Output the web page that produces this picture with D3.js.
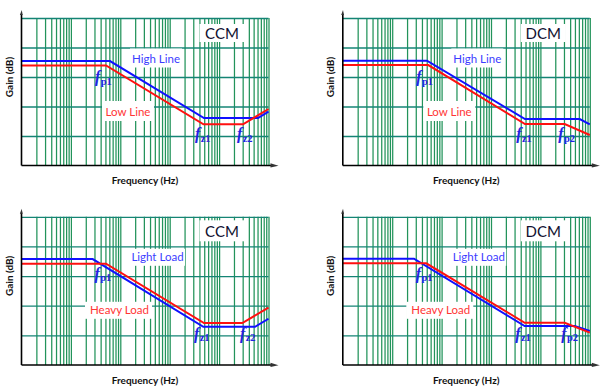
<!DOCTYPE html>
<html>
<head>
<meta charset="utf-8">
<script src="https://cdn.jsdelivr.net/npm/d3@7/dist/d3.min.js"></script>
<style>
  html, body { margin: 0; padding: 0; background: #fff; }
  svg { display: block; }
</style>
</head>
<body>
<div id="chart"></div>
<script>
// ---------------- data ----------------
const panelTitles = ["CCM", "DCM", "CCM", "DCM"];
const upperLabels = ["High Line", "High Line", "Light Load", "Light Load"];
const lowerLabels = ["Low Line", "Low Line", "Heavy Load", "Heavy Load"];
const cornerSubs = [["p1", "z1", "z2"], ["p1", "z1", "p2"], ["p1", "z1", "z2"], ["p1", "z1", "p2"]];
const gridGains = [20, 40, 60, 80, 100];
const gridMantissas = [1, 2, 3, 4, 5, 6, 7, 8, 9];
const gridDecades = [1, 10, 100, 1000, 10000];

// Panel 1: CCM, High Line (blue) / Low Line (red)
const ccmHighFreq = [1, 61.9, 4946, 61300, 100000];
const ccmHighGain = [70.8, 70.8, 32.2, 32.2, 36.5];
const ccmLowFreq = [1, 51.4, 4836, 30500, 100000];
const ccmLowGain = [67.8, 67.8, 27.9, 27.9, 38.3];
// Panel 2: DCM, High Line / Low Line
const dcmHighFreq = [1, 50.6, 4880, 62500, 100000];
const dcmHighGain = [71.1, 71.1, 31.5, 31.5, 27.9];
const dcmLowFreq = [1, 53.8, 4880, 31000, 100000];
const dcmLowGain = [68.1, 68.1, 28.1, 28.1, 20.7];
// Panel 3: CCM, Light Load (blue) / Heavy Load (red)
const ccmLightFreq = [1, 27.6, 4790, 53300, 100000];
const ccmLightGain = [71.5, 71.5, 25.8, 25.8, 31.2];
const ccmHeavyFreq = [1, 51.4, 4946, 29500, 100000];
const ccmHeavyGain = [68.4, 68.4, 28.3, 28.3, 38.7];
// Panel 4: DCM, Light Load / Heavy Load
const dcmLightFreq = [1, 27.6, 4810, 49500, 100000];
const dcmLightGain = [71.7, 71.7, 26.3, 26.3, 22.9];
const dcmHeavyFreq = [1, 49.0, 4810, 31000, 100000];
const dcmHeavyGain = [68.6, 68.6, 28.5, 28.5, 21.8];

const blueSeries = [[ccmHighFreq, ccmHighGain], [dcmHighFreq, dcmHighGain], [ccmLightFreq, ccmLightGain], [dcmLightFreq, dcmLightGain]];
const redSeries = [[ccmLowFreq, ccmLowGain], [dcmLowFreq, dcmLowGain], [ccmHeavyFreq, ccmHeavyGain], [dcmHeavyFreq, dcmHeavyGain]];

// ---------------- layout ----------------
const W = 606, H = 392;
const svg = d3.select("#chart").append("svg").attr("width", W).attr("height", H);
const SANS = "Lato, 'Open Sans', sans-serif";
const SERIF = "'Liberation Serif', 'DejaVu Serif', serif";

const gridFreqs = [];
gridDecades.forEach(d => gridMantissas.forEach(m => { if (d * m > 1) gridFreqs.push(d * m); }));
gridFreqs.push(100000);

const colX = [21.5, 342.8];
const rowY = [18, 216.8];
const rowH = [147.5, 148.2];
const PW = 247;

function panel(i) {
  const col = i % 2, row = Math.floor(i / 2);
  const px = colX[col], py = rowY[row], ph = rowH[row];
  const x = d3.scaleLog().domain([1, 100000]).range([px, px + PW]);
  const y = d3.scaleLinear().domain([0, 100]).range([py + ph, py]);
  const g = svg.append("g");

  // vertical grid
  const vg = g.append("g").attr("transform", `translate(0,${py + ph})`)
    .call(d3.axisBottom(x).tickValues(gridFreqs).tickSize(-ph).tickFormat(""));
  vg.select(".domain").remove();
  vg.selectAll("line").attr("stroke", "#22935a").attr("stroke-width", 1.25);

  // horizontal grid
  const hg = g.append("g").attr("transform", `translate(${px},0)`)
    .call(d3.axisLeft(y).tickValues(gridGains).tickSize(-PW).tickFormat(""));
  hg.select(".domain").remove();
  hg.selectAll("line").attr("stroke", "#148474").attr("stroke-width", 1.3);

  // white label boxes
  const boxes = row === 0
    ? [[200.5, 15, 45, 18], [134.5, 40, 52, 19], [106.5, 93, 52, 20]]
    : [[201, 14, 46, 21], [135, 40.5, 57, 17], [97, 93.5, 67, 17]];
  boxes.forEach(b => {
    g.append("rect").attr("x", px + b[0] - b[2] / 2).attr("y", py + b[1] - b[3] / 2)
      .attr("width", b[2]).attr("height", b[3]).attr("fill", "#fff");
  });

  // curves
  const line = d3.line().x(d => x(d[0])).y(d => y(d[1]));
  const bs = blueSeries[i], rs = redSeries[i];
  g.append("path").attr("d", line(d3.zip(bs[0], bs[1])))
    .attr("fill", "none").attr("stroke", "#1010ff").attr("stroke-width", 2);
  g.append("path").attr("d", line(d3.zip(rs[0], rs[1])))
    .attr("fill", "none").attr("stroke", "#ff1010").attr("stroke-width", 2);

  // axes (black) with arrows
  const y0 = y(0);
  g.append("line").attr("x1", px).attr("x2", px + PW + 3).attr("y1", y0).attr("y2", y0)
    .attr("stroke", "#000").attr("stroke-width", 1.6);
  g.append("path").attr("d", `M${px + PW + 2},${y0 - 2.2}L${px + PW + 10},${y0 + 0.3}L${px + PW + 2},${y0 + 2}Z`)
    .attr("fill", "#333");
  g.append("line").attr("x1", px).attr("x2", px).attr("y1", y0).attr("y2", py - 4)
    .attr("stroke", "#000").attr("stroke-width", 1.6);
  g.append("path").attr("d", `M${px - 1.6},${py - 3}L${px + 0.2},${py - 8}L${px + 1.2},${py - 3}Z`)
    .attr("fill", "#333");

  // title
  g.append("text").attr("x", px + 200.5).attr("y", py + (row === 0 ? 14.5 : 14))
    .attr("text-anchor", "middle").attr("dominant-baseline", "central")
    .attr("font-family", SANS).attr("font-size", 15).attr("fill", "#101030")
    .text(panelTitles[i]);
  // series labels
  g.append("text").attr("x", px + (row === 0 ? 134.5 : 136)).attr("y", py + 40)
    .attr("text-anchor", "middle").attr("dominant-baseline", "central")
    .attr("font-family", SANS).attr("font-size", 11.5).attr("fill", "#3c3cff")
    .text(upperLabels[i]);
  g.append("text").attr("x", px + (row === 0 ? 106.5 : 98)).attr("y", py + 93)
    .attr("text-anchor", "middle").attr("dominant-baseline", "central")
    .attr("font-family", SANS).attr("font-size", 11.5).attr("fill", "#ff3535")
    .text(lowerLabels[i]);

  // corner frequency labels
  const fx = row === 0 ? [73.5, 173.5, 215.5] : [73, 172.5, 218.5];
  const fy = row === 0 ? [64, 121, 121] : [62, 122, 122];
  cornerSubs[i].forEach((s, k) => {
    const t = g.append("text").attr("x", px + fx[k]).attr("y", py + fy[k])
      .attr("fill", "#2323e0").attr("font-weight", "bold");
    t.append("tspan").attr("font-family", SERIF).attr("font-style", "italic")
      .attr("font-size", 16).text("f");
    t.append("tspan").attr("font-family", SERIF).attr("font-size", 10.5).attr("dx", 0.3)
      .attr("dy", 2.5).text(s);
  });

  // axis titles
  g.append("text")
    .attr("transform", `translate(${px - 12.5},${py + 59}) rotate(-90)`)
    .attr("text-anchor", "middle").attr("dominant-baseline", "central")
    .attr("font-family", SANS).attr("font-size", 10).attr("font-weight", "bold").attr("fill", "#111")
    .text("Gain (dB)");
  g.append("text").attr("x", px + PW / 2).attr("y", y0 + 14.5)
    .attr("text-anchor", "middle").attr("dominant-baseline", "central")
    .attr("font-family", SANS).attr("font-size", 10).attr("font-weight", "bold").attr("fill", "#111")
    .text("Frequency (Hz)");
}

[0, 1, 2, 3].forEach(panel);
</script>
</body>
</html>
